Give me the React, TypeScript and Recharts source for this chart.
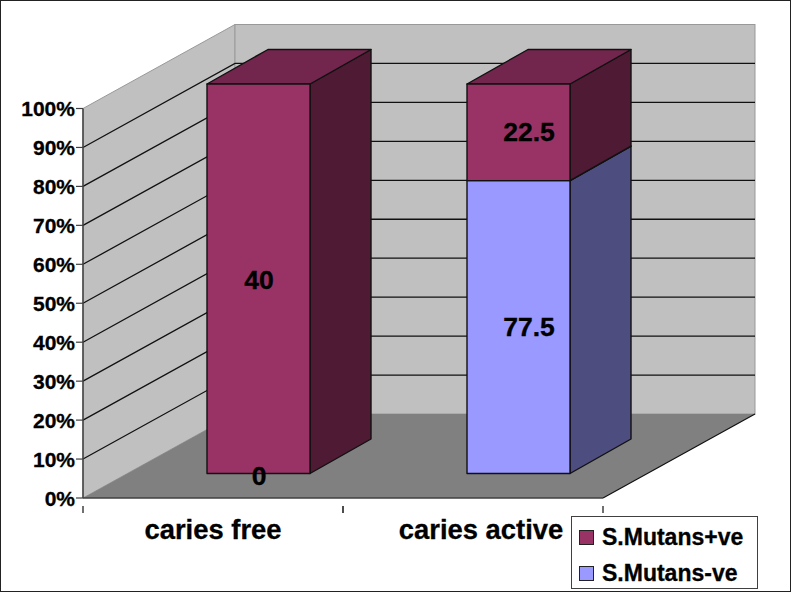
import { Bar, BarChart, CartesianGrid, LabelList, Legend, XAxis, YAxis } from "recharts";

const categories = ["caries free", "caries active"];
// bar heights, the printed labels differ from them
const plusShare = [100, 24.8];
const minusShare = [0, 75.2];
const plusLabels = ["40", "22.5"];
const minusLabels = ["0", "77.5"];
const percentTicks = [0, 10, 20, 30, 40, 50, 60, 70, 80, 90, 100];

const data = categories.map((name, i) => ({
  name,
  plus: plusShare[i],
  minus: minusShare[i],
}));

const FONT = "'Liberation Sans', Arial, sans-serif";
const WALL_DX = 152;
const WALL_DY = -84;
const BAR_SHIFT_X = 45;
const BAR_SHIFT_Y = -24.5;
const BAR_DX = 61;
const BAR_DY = -34.5;
const HALF_BAND = 130;
const AXIS_COLOR = "#404040";
const EDGE_COLOR = "#111";

function wallsAndLine(props: any) {
  const { x1, x2, y1, index } = props;
  const bottom = 498;
  const top = 108.5;
  const isEdge = y1 <= top + 1 || y1 >= bottom - 1;
  return (
    <g key={`grid-${index}`}>
      {index === 0 && (
        <g>
          <polygon
            points={`${x1},${top} ${x1 + WALL_DX},${top + WALL_DY} ${x1 + WALL_DX},${bottom + WALL_DY} ${x1},${bottom}`}
            fill="#c0c0c0"
            stroke="#999"
          />
          <rect
            x={x1 + WALL_DX}
            y={top + WALL_DY}
            width={x2 - x1}
            height={bottom - top}
            fill="#c0c0c0"
            stroke="#999"
          />
          <polygon
            points={`${x1},${bottom} ${x1 + WALL_DX},${bottom + WALL_DY} ${x2 + WALL_DX},${bottom + WALL_DY} ${x2},${bottom}`}
            fill="#808080"
          />
          <line
            x1={x2}
            y1={bottom}
            x2={x2 + WALL_DX}
            y2={bottom + WALL_DY}
            stroke={EDGE_COLOR}
            strokeWidth={1.2}
          />
        </g>
      )}
      {!isEdge && (
        <polyline
          points={`${x1},${y1} ${x1 + WALL_DX},${y1 + WALL_DY} ${x2 + WALL_DX},${y1 + WALL_DY}`}
          fill="none"
          stroke={EDGE_COLOR}
          strokeWidth={1.3}
        />
      )}
    </g>
  );
}

function cuboid(front: string, side: string, top: string) {
  return (props: any) => {
    const { x, y, width, height } = props;
    if (!height) return <g />;
    const left = x + BAR_SHIFT_X;
    const right = left + width;
    const upper = y + BAR_SHIFT_Y;
    const lower = upper + height;
    return (
      <g stroke={EDGE_COLOR} strokeWidth={1.4} strokeLinejoin="round">
        <polygon
          points={`${right},${upper} ${right + BAR_DX},${upper + BAR_DY} ${right + BAR_DX},${lower + BAR_DY} ${right},${lower}`}
          fill={side}
        />
        <polygon
          points={`${left},${upper} ${left + BAR_DX},${upper + BAR_DY} ${right + BAR_DX},${upper + BAR_DY} ${right},${upper}`}
          fill={top}
        />
        <rect x={left} y={upper} width={width} height={height} fill={front} />
      </g>
    );
  };
}

function valueLabel(labels: string[]) {
  return (props: any) => {
    const { x, y, width, height, index } = props;
    const h = Number(height) || 0;
    const nudge = index === 1 ? 10.5 : 0.5;
    const cx = Number(x) + BAR_SHIFT_X + Number(width) / 2 + nudge;
    const lift = index === 1 ? -0.5 : h ? 1 : 2;
    const cy = Number(y) + BAR_SHIFT_Y + h / 2 + lift;
    return (
      <text
        x={cx}
        y={cy}
        textAnchor="middle"
        dy="0.36em"
        fontFamily={FONT}
        fontWeight="bold"
        fontSize={26.5}
        fill="#000"
        stroke="#000"
        strokeWidth={0.35}
      >
        {labels[index]}
      </text>
    );
  };
}

function PercentTick({ x, y, payload }: any) {
  return (
    <text
      x={x - 1}
      y={y}
      textAnchor="end"
      dy="0.36em"
      fontFamily={FONT}
      fontWeight="bold"
      fontSize={21}
      fill="#000"
      stroke="#000"
      strokeWidth={0.3}
    >
      {payload.value}%
    </text>
  );
}

function CategoryTick({ x, y, payload, index }: any) {
  const nudge = index === 1 ? 8 : 0;
  return (
    <g>
      <line x1={x - HALF_BAND} y1={y} x2={x - HALF_BAND} y2={y + 7} stroke={AXIS_COLOR} strokeWidth={1.5} />
      <line x1={x + HALF_BAND} y1={y} x2={x + HALF_BAND} y2={y + 7} stroke={AXIS_COLOR} strokeWidth={1.5} />
      <text
        x={x + nudge}
        y={539}
        textAnchor="middle"
        fontFamily={FONT}
        fontWeight="bold"
        fontSize={27.4}
        fill="#000"
        stroke="#000"
        strokeWidth={0.3}
      >
        {payload.value}
      </text>
    </g>
  );
}

function LegendBox({ payload }: any) {
  return (
    <div
      style={{
        boxSizing: "border-box",
        width: 187,
        height: 73,
        border: `1px solid ${AXIS_COLOR}`,
        background: "#fff",
        paddingLeft: 7,
        paddingTop: 2,
      }}
    >
      {(payload ?? []).map((item: any) => (
        <div key={item.value} style={{ display: "flex", alignItems: "center", height: 36 }}>
          <span
            style={{
              boxSizing: "border-box",
              width: 15,
              height: 15,
              background: item.color,
              border: "1px solid #222",
              marginRight: 8,
              flex: "none",
            }}
          />
          <span
            style={{
              fontFamily: FONT,
              fontWeight: "bold",
              fontSize: 23,
              color: "#000",
              whiteSpace: "nowrap",
              WebkitTextStroke: "0.3px #000",
            }}
          >
            {item.value}
          </span>
        </div>
      ))}
    </div>
  );
}

export default function App() {
  return (
    <div style={{ position: "absolute", left: 0, top: 0, width: 791, height: 592, background: "#fff" }}>
      <BarChart
        width={791}
        height={592}
        data={data}
        margin={{ top: 108.5, right: 188, bottom: 0, left: 0 }}
      >
        <CartesianGrid vertical={false} horizontal={wallsAndLine} />
        <XAxis
          dataKey="name"
          height={94}
          tickLine={false}
          tick={CategoryTick}
          axisLine={{ stroke: AXIS_COLOR, strokeWidth: 1.5 }}
          interval={0}
        />
        <YAxis
          width={83}
          domain={[0, 100]}
          ticks={percentTicks}
          tick={PercentTick}
          tickSize={7}
          tickMargin={0}
          tickLine={{ stroke: AXIS_COLOR, strokeWidth: 1.2 }}
          axisLine={{ stroke: AXIS_COLOR, strokeWidth: 1.5 }}
          interval={0}
        />
        <Bar
          dataKey="minus"
          name="S.Mutans-ve"
          stackId="a"
          fill="#9999ff"
          barSize={103}
          shape={cuboid("#9999ff", "#4d4d80", "#737399")}
          isAnimationActive={false}
        >
          <LabelList content={valueLabel(minusLabels)} />
        </Bar>
        <Bar
          dataKey="plus"
          name="S.Mutans+ve"
          stackId="a"
          fill="#993366"
          barSize={103}
          shape={cuboid("#993366", "#4f1a33", "#73264d")}
          isAnimationActive={false}
        >
          <LabelList content={valueLabel(plusLabels)} />
        </Bar>
        <Legend
          layout="vertical"
          align="center"
          verticalAlign="middle"
          content={LegendBox}
          wrapperStyle={{ left: 571, top: 516, width: 187, height: 73, margin: 0 }}
        />
      </BarChart>
      <div
        style={{
          position: "absolute",
          inset: 0,
          boxSizing: "border-box",
          border: "1px solid #222",
          pointerEvents: "none",
        }}
      />
    </div>
  );
}
